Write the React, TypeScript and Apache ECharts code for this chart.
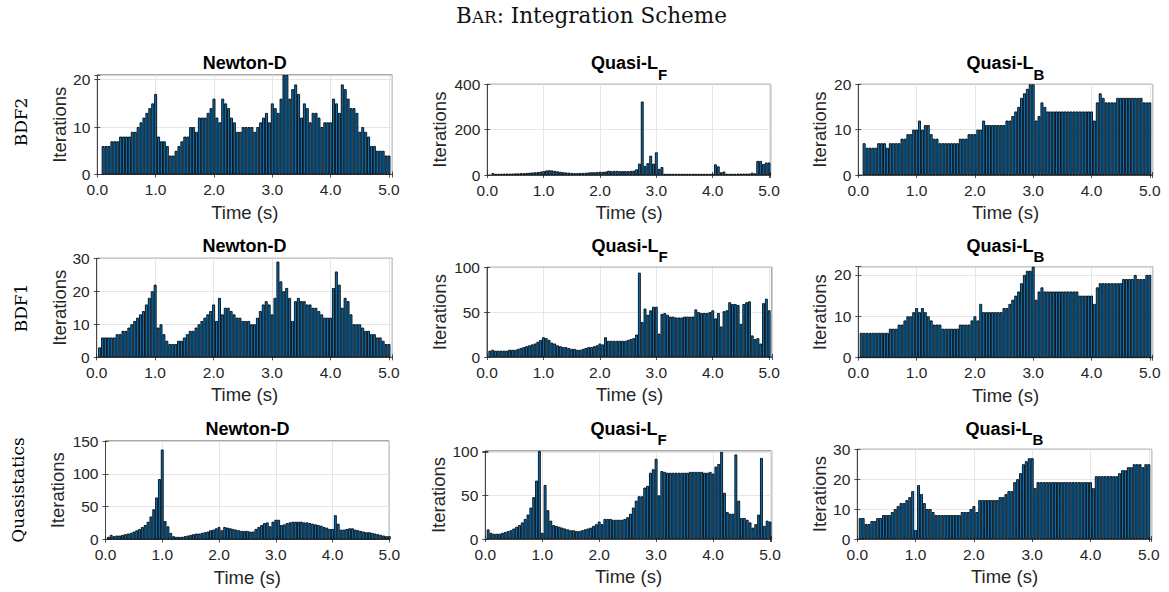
import React, { useEffect, useRef } from 'react';
import * as echarts from 'echarts';

// ---------------- data ----------------
const DT = 0.05;
// time steps (end of each step); BDF2 starts at the second step
const timesBDF2: number[] = Array.from({ length: 99 }, (_, i) => +(0.1 + i * DT).toFixed(2));
const timesFull: number[] = Array.from({ length: 100 }, (_, i) => +(0.05 + i * DT).toFixed(2));

const xTicks = [0, 1, 2, 3, 4, 5];

const bdf2Newton = [
  6, 6, 6, 7, 7, 7, 8, 8, 8, 8, 9, 9, 10, 11, 12, 13, 14, 15, 17,
  8, 7, 7, 6, 4, 4, 5, 6, 7, 8, 8, 10, 10, 9, 12, 12, 12, 13, 14, 16,
  12, 11, 16, 15, 14, 12, 11, 9, 9, 10, 10, 10, 10, 9, 10, 11, 12, 13, 11, 15,
  14, 13, 16, 21, 21, 16, 18, 19, 17, 12, 15, 14, 11, 13, 13, 12, 10, 11, 11, 11,
  16, 15, 13, 19, 18, 16, 14, 14, 13, 9, 10, 9, 8, 6, 6, 5, 5, 5, 4, 4,
];
const bdf2QuasiF = [
  8, 5, 5, 5, 6, 6, 6, 6, 7, 7, 8, 8, 9, 10, 11, 12, 13, 15, 17,
  20, 21, 20, 18, 16, 14, 12, 11, 10, 9, 8, 8, 9, 9, 10, 11, 12, 12, 13, 14,
  14, 15, 19, 17, 18, 18, 17, 17, 17, 17, 18, 19, 25, 50, 324, 40, 52, 85, 50, 100,
  27, 35, 5, 5, 5, 5, 5, 5, 5, 5, 5, 5, 5, 5, 5, 5, 5, 5, 5, 5,
  47, 38, 12, 15, 5, 5, 5, 5, 6, 6, 6, 6, 6, 10, 7, 62, 62, 48, 55, 55,
];
const bdf2QuasiB = [
  7, 6, 6, 6, 6, 7, 7, 7, 6, 7, 7, 7, 7, 8, 8, 9, 9, 10, 10,
  12, 10, 11, 11, 9, 8, 8, 7, 7, 7, 7, 7, 7, 7, 8, 8, 8, 9, 9, 9,
  10, 10, 12, 11, 11, 11, 11, 11, 11, 11, 12, 12, 13, 14, 15, 17, 18, 19, 20, 20,
  12, 13, 16, 15, 14, 14, 14, 14, 14, 14, 14, 14, 14, 14, 14, 14, 14, 14, 14, 14,
  12, 16, 18, 17, 16, 16, 16, 16, 17, 17, 17, 17, 17, 17, 17, 17, 17, 16, 16, 16,
];
const bdf1Newton = [
  3, 6, 6, 6, 6, 6, 7, 7, 8, 8, 9, 10, 11, 12, 13, 14, 16, 18, 20, 22,
  9, 10, 7, 5, 4, 4, 4, 5, 5, 6, 7, 8, 8, 9, 10, 11, 12, 13, 14, 16,
  11, 18, 13, 15, 15, 14, 13, 12, 12, 11, 11, 11, 10, 10, 12, 14, 16, 17, 16, 13,
  18, 29, 23, 20, 21, 18, 11, 17, 18, 17, 17, 16, 16, 15, 15, 14, 13, 12, 12, 12,
  21, 26, 22, 15, 18, 17, 13, 10, 10, 10, 9, 8, 8, 7, 7, 6, 6, 5, 4, 4,
];
const bdf1QuasiF = [
  7, 8, 7, 7, 7, 7, 7, 8, 8, 8, 9, 10, 11, 12, 13, 14, 15, 17, 19, 22,
  21, 19, 16, 15, 13, 12, 11, 11, 10, 9, 9, 8, 8, 9, 10, 11, 11, 12, 13, 15,
  14, 22, 18, 18, 18, 18, 18, 18, 18, 19, 20, 21, 25, 94, 39, 54, 47, 52, 56, 56,
  26, 48, 49, 47, 45, 45, 44, 44, 44, 45, 45, 45, 45, 53, 50, 49, 49, 49, 50, 52,
  43, 49, 34, 51, 52, 61, 59, 59, 58, 37, 59, 61, 62, 24, 20, 21, 15, 60, 65, 52,
];
const bdf1QuasiB = [
  6, 6, 6, 6, 6, 6, 6, 6, 6, 6, 7, 7, 7, 8, 8, 9, 10, 10, 11, 12,
  11, 12, 11, 10, 9, 8, 8, 8, 7, 7, 7, 7, 7, 7, 8, 8, 8, 8, 9, 10,
  9, 13, 11, 11, 11, 11, 11, 11, 11, 12, 12, 13, 14, 15, 16, 18, 20, 21, 21, 22,
  14, 16, 17, 16, 16, 16, 16, 16, 16, 16, 16, 16, 16, 16, 16, 15, 15, 15, 15, 15,
  13, 17, 18, 18, 18, 18, 18, 18, 18, 18, 19, 19, 19, 19, 20, 19, 19, 19, 20, 20,
];
const qsNewton = [
  4, 7, 5, 6, 6, 7, 8, 9, 10, 12, 14, 16, 19, 22, 27, 35, 46, 64, 92, 137,
  28, 20, 10, 5, 4, 4, 4, 5, 6, 7, 8, 9, 9, 10, 11, 12, 14, 15, 17, 19,
  14, 19, 18, 17, 16, 15, 14, 13, 13, 13, 12, 12, 16, 19, 22, 25, 26, 20, 27, 30,
  30, 22, 23, 25, 26, 27, 27, 27, 27, 26, 26, 25, 24, 23, 22, 21, 19, 18, 16, 16,
  37, 24, 15, 15, 16, 17, 17, 15, 14, 13, 12, 11, 11, 10, 9, 8, 7, 6, 5, 5,
];
const qsQuasiF = [
  11, 7, 6, 6, 6, 7, 8, 9, 10, 12, 14, 16, 19, 23, 28, 36, 48, 67, 101, 7,
  62, 33, 21, 16, 15, 14, 13, 12, 11, 10, 10, 9, 9, 10, 11, 12, 13, 15, 17, 20,
  17, 23, 23, 23, 22, 22, 22, 22, 23, 25, 29, 36, 44, 49, 49, 59, 61, 76, 80, 92,
  50, 78, 77, 76, 76, 76, 76, 76, 76, 76, 76, 77, 77, 77, 77, 77, 76, 76, 77, 75,
  83, 86, 100, 53, 31, 29, 29, 97, 44, 24, 24, 22, 19, 13, 17, 28, 93, 15, 21, 20,
];
const qsQuasiB = [
  7, 7, 5, 5, 6, 6, 7, 7, 8, 8, 8, 9, 10, 11, 12, 12, 13, 14, 16, 3,
  18, 15, 12, 10, 10, 9, 8, 8, 8, 8, 8, 8, 8, 8, 8, 9, 9, 9, 10, 11,
  9, 13, 13, 13, 13, 13, 13, 13, 14, 14, 15, 16, 16, 19, 20, 22, 25, 26, 27, 27,
  17, 19, 19, 19, 19, 19, 19, 19, 19, 19, 19, 19, 19, 19, 19, 19, 19, 19, 19, 19,
  17, 21, 21, 21, 21, 21, 21, 21, 21, 22, 23, 23, 24, 24, 25, 25, 25, 24, 25, 25,
];

const rowLabels = ['BDF2', 'BDF1', 'Quasistatics'];
const methodTitles = [
  { main: 'Newton-D', sub: '' },
  { main: 'Quasi-L', sub: 'F' },
  { main: 'Quasi-L', sub: 'B' },
];
const yMax = [[21, 400, 20], [30, 100, 22], [150, 101, 30]];
const yStep = [[10, 200, 10], [10, 50, 10], [50, 50, 10]];
const panelData = [
  [bdf2Newton, bdf2QuasiF, bdf2QuasiB],
  [bdf1Newton, bdf1QuasiF, bdf1QuasiB],
  [qsNewton, qsQuasiF, qsQuasiB],
];
const panelTimes = [timesBDF2, timesFull, timesFull];

const mainTitle = { big1: 'B', small: 'AR', big2: ': Integration Scheme' };

// ---------------- layout (pixels) ----------------
const LAYOUT = [
  [
    { l: 97.3, t: 75, r: 392.3, b: 174.5, xmax: 5.057 },
    { l: 487.3, t: 84.3, r: 770.7, b: 175, xmax: 5.03 },
    { l: 858.3, t: 84.3, r: 1152.7, b: 175, xmax: 5.05 },
  ],
  [
    { l: 96.7, t: 258.3, r: 392.3, b: 357.3, xmax: 5.057 },
    { l: 487, t: 267.3, r: 772, b: 357, xmax: 5.05 },
    { l: 858.3, t: 266.7, r: 1152.7, b: 357.7, xmax: 5.05 },
  ],
  [
    { l: 105.5, t: 441, r: 389.3, b: 539.5, xmax: 5.0 },
    { l: 485.3, t: 451, r: 771.7, b: 539, xmax: 5.03 },
    { l: 857.3, t: 449.3, r: 1151.7, b: 539, xmax: 5.05 },
  ],
];
const TITLE_Y = [63, 245.5, 428.5];
const YNAME_X = [[59, 439, 819], [59, 439, 819], [57.5, 438.5, 819]];
const ROW_LABEL = [
  { x: 21, y: 122 },
  { x: 21, y: 308 },
  { x: 18, y: 490 },
];

const SANS = '"Liberation Sans", Arial, sans-serif';
const SERIF = '"DejaVu Serif", serif';
const TXT = '#262626';

let measureCtx: CanvasRenderingContext2D | null = null;
function textWidth(text: string, font: string): number {
  if (!measureCtx) measureCtx = document.createElement('canvas').getContext('2d');
  if (!measureCtx) return text.length * 8;
  measureCtx.font = font;
  return measureCtx.measureText(text).width;
}

function buildOption() {
  const grid: any[] = [];
  const xAxis: any[] = [];
  const yAxis: any[] = [];
  const xAxisBox: any[] = [];
  const yAxisBox: any[] = [];
  const series: any[] = [];
  const graphic: any[] = [];

  const TITLE_FS = 18;
  const SUB_FS = 15;
  const TICK_FS = 15.5;
  const LABEL_FS = 18.5;
  const tickStyle = { show: true, inside: true, length: 3, lineStyle: { color: TXT, width: 0.8 } };

  for (let r = 0; r < 3; r++) {
    for (let c = 0; c < 3; c++) {
      const idx = r * 3 + c;
      const p = LAYOUT[r][c];
      const w = p.r - p.l;
      const h = p.b - p.t;
      const step = yStep[r][c];
      grid.push({
        left: p.l, top: p.t, width: w, height: h,
        show: true, borderColor: TXT, borderWidth: 0.8, backgroundColor: 'transparent',
      });
      xAxis.push({
        gridIndex: idx, type: 'value', min: 0, max: p.xmax, interval: 1,
        axisLine: { show: true, onZero: false, lineStyle: { color: TXT, width: 0.8 } },
        axisTick: tickStyle,
        axisLabel: {
          color: TXT, fontSize: TICK_FS, fontFamily: SANS, margin: 7,
          formatter: (v: number) => (xTicks.some((t) => Math.abs(t - v) < 1e-6) ? v.toFixed(1) : ''),
        },
        splitLine: { show: true, lineStyle: { color: '#dfdfdf', width: 0.8 } },
      });
      xAxisBox.push({
        gridIndex: idx, type: 'value', position: 'top', min: 0, max: p.xmax, interval: 1,
        axisLine: { show: false }, axisTick: tickStyle,
        axisLabel: { show: false }, splitLine: { show: false },
      });
      yAxis.push({
        gridIndex: idx, type: 'value', min: 0, max: yMax[r][c], interval: step,
        axisLine: { show: true, lineStyle: { color: TXT, width: 0.8 } },
        axisTick: tickStyle,
        axisLabel: {
          color: TXT, fontSize: TICK_FS, fontFamily: SANS, margin: 7,
          formatter: (v: number) => (Math.abs(v / step - Math.round(v / step)) < 1e-6 ? String(v) : ''),
        },
        splitLine: { show: true, lineStyle: { color: '#dfdfdf', width: 0.8 } },
      });
      yAxisBox.push({
        gridIndex: idx, type: 'value', position: 'right', min: 0, max: yMax[r][c], interval: step,
        axisLine: { show: false }, axisTick: tickStyle,
        axisLabel: { show: false }, splitLine: { show: false },
      });
      const times = panelTimes[r];
      const vals = panelData[r][c];
      series.push({
        type: 'bar', xAxisIndex: idx, yAxisIndex: idx, silent: true,
        barWidth: (w / p.xmax) * DT,
        data: times.map((t, k) => [t, vals[k]]),
        itemStyle: { color: '#0072BD', borderColor: '#000', borderWidth: 0.85 },
      });

      // title
      const cx = (p.l + p.r) / 2;
      const mt = methodTitles[c];
      const fMain = `bold ${TITLE_FS}px "Liberation Sans"`;
      const fSub = `bold ${SUB_FS}px "Liberation Sans"`;
      const wm = textWidth(mt.main, fMain);
      const ws = mt.sub ? textWidth(mt.sub, fSub) : 0;
      const x0 = cx - (wm + ws) / 2;
      graphic.push({
        type: 'text', x: x0, y: TITLE_Y[r], silent: true,
        style: { text: mt.main, fill: '#000', fontSize: TITLE_FS, fontWeight: 'bold', fontFamily: SANS, align: 'left', verticalAlign: 'middle' },
      });
      if (mt.sub) {
        graphic.push({
          type: 'text', x: x0 + wm, y: TITLE_Y[r] + 11.3, silent: true,
          style: { text: mt.sub, fill: '#000', fontSize: SUB_FS, fontWeight: 'bold', fontFamily: SANS, align: 'left', verticalAlign: 'middle' },
        });
      }
      // axis names
      graphic.push({
        type: 'text', x: cx, y: p.b + 37.5, silent: true,
        style: { text: 'Time (s)', fill: TXT, fontSize: LABEL_FS, fontFamily: SANS, align: 'center', verticalAlign: 'middle' },
      });
      graphic.push({
        type: 'text', x: YNAME_X[r][c], y: (p.t + p.b) / 2, rotation: Math.PI / 2, silent: true,
        style: { text: 'Iterations', fill: TXT, fontSize: LABEL_FS, fontFamily: SANS, align: 'center', verticalAlign: 'middle' },
      });
    }
    graphic.push({
      type: 'text', x: ROW_LABEL[r].x, y: ROW_LABEL[r].y, rotation: Math.PI / 2, silent: true,
      style: { text: rowLabels[r], fill: '#000', fontSize: 17, fontFamily: SERIF, align: 'center', verticalAlign: 'middle' },
    });
  }

  // main title with small caps
  const BIG = 21.5;
  const SMALL = 16.8;
  const w1 = textWidth(mainTitle.big1, `${BIG}px "DejaVu Serif"`);
  const w2 = textWidth(mainTitle.small, `${SMALL}px "DejaVu Serif"`);
  const w3 = textWidth(mainTitle.big2, `${BIG}px "DejaVu Serif"`);
  const tx0 = 591.5 - (w1 + w2 + w3) / 2;
  const ty = 15.5;
  graphic.push({
    type: 'text', x: tx0, y: ty, silent: true,
    style: { text: mainTitle.big1, fill: '#111', fontSize: BIG, fontFamily: SERIF, align: 'left', verticalAlign: 'middle' },
  });
  graphic.push({
    type: 'text', x: tx0 + w1, y: ty + 0.346 * (BIG - SMALL), silent: true,
    style: { text: mainTitle.small, fill: '#111', fontSize: SMALL, fontFamily: SERIF, align: 'left', verticalAlign: 'middle' },
  });
  graphic.push({
    type: 'text', x: tx0 + w1 + w2, y: ty, silent: true,
    style: { text: mainTitle.big2, fill: '#111', fontSize: BIG, fontFamily: SERIF, align: 'left', verticalAlign: 'middle' },
  });

  return {
    animation: false,
    backgroundColor: '#ffffff',
    grid,
    xAxis: [...xAxis, ...xAxisBox],
    yAxis: [...yAxis, ...yAxisBox],
    series, graphic,
  };
}

export default function App() {
  const ref = useRef<HTMLDivElement | null>(null);
  useEffect(() => {
    if (!ref.current) return;
    const chart = echarts.init(ref.current, undefined, { renderer: 'svg' });
    chart.setOption(buildOption() as any);
    return () => chart.dispose();
  }, []);
  return (
    <div
      ref={ref}
      style={{ position: 'fixed', left: 0, top: 0, width: 1169, height: 592, background: '#fff' }}
    />
  );
}
